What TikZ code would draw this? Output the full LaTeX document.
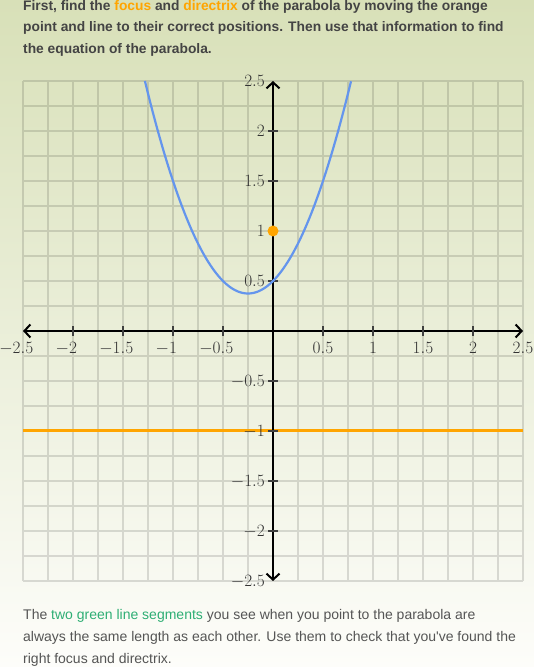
\documentclass[tikz,border=0pt]{standalone}
\usepackage[no-math]{fontspec}
\newfontfamily\uisans{Liberation Sans}
\usetikzlibrary{arrows.meta}
\definecolor{bgtop}{RGB}{216,224,184}
\definecolor{bgbot}{RGB}{253,253,250}
\definecolor{txt}{RGB}{68,68,68}
\definecolor{txtb}{RGB}{85,85,85}
\definecolor{orng}{RGB}{255,165,0}
\definecolor{grn}{RGB}{46,174,116}
\definecolor{curveblue}{RGB}{100,149,237}
\newcommand\negl[1]{\llap{$-$}#1}
\begin{document}
\begin{tikzpicture}[x=1pt,y=1pt,
  gridline/.style={draw=black,opacity=0.13,line width=1.6pt},
  axisline/.style={draw=black,line width=2pt},
  barb/.style={arrows={Straight Barb[length=6pt,width=13pt]-Straight Barb[length=6pt,width=13pt]}},
  tickmark/.style={draw=black!75,line width=1.2pt},
  ticklabel/.style={inner sep=0pt,font=\fontsize{16.5}{18}\selectfont,text=black!80},
  directrix/.style={draw=orng,line width=3pt},
  curve/.style={draw=curveblue,line width=2.2pt},
  focuspt/.style={circle,fill=orng,inner sep=0pt,minimum size=11pt},
  toptext/.style={inner sep=0pt,anchor=base west,text=txt,font=\uisans\bfseries\fontsize{13.8}{16}\selectfont},
  bottext/.style={inner sep=0pt,anchor=base west,text=txtb,font=\uisans\fontsize{14}{16}\selectfont}]
\useasboundingbox (0,0) rectangle (534,667);
\shade[top color=bgtop,bottom color=bgbot] (0,0) rectangle (534,667);

\node[toptext] (t1) at (23,656.7) {First, find the {\color{orng}focus} and {\color{orng}directrix} of the parabola by moving the orange};
\node[toptext] (t2) at (23,635.2) {point and line to their correct positions. Then use that information to find};
\node[toptext] (t3) at (23,613.7) {the equation of the parabola.};

\node[bottext] (b1) at (23,47) {The {\color{grn}two green line segments} you see when you point to the parabola are};
\node[bottext] (b2) at (23,25.3) {always the same length as each other. Use them to check that you{\char39}ve found the};
\node[bottext] (b3) at (23,3.7) {right focus and directrix.};

\begin{scope}[shift={(273,336)},x=100pt,y=100pt]
  \draw[gridline,step=0.25] (-2.5,-2.5) grid (2.5,2.5);
  \coordinate (dl) at (-2.5,-1);
  \coordinate (dr) at (2.5,-1);
  \draw[directrix] (dl) -- (dr);
  \coordinate (xl) at (-2.5,0);
  \coordinate (xr) at (2.5,0);
  \coordinate (yb) at (0,-2.5);
  \coordinate (yt) at (0,2.5);
  \draw[axisline,barb] (xl) -- (xr);
  \draw[axisline,barb] (yb) -- (yt);
  \foreach \v in {-2,-1.5,-1,-0.5,0.5,1,1.5,2} {
    \draw[tickmark] (\v,-0.05) -- (\v,0.05);
    \draw[tickmark] (-0.05,\v) -- (0.05,\v);
  }
  \foreach \v/\t [count=\i] in {-2.5/\negl{2.5},-2/\negl{2},-1.5/\negl{1.5},-1/\negl{1},-0.5/\negl{0.5},0.5/0.5,1/1,1.5/1.5,2/2,2.5/2.5} {
    \node[ticklabel,anchor=base,yshift=-23pt] (xlab\i) at (\v,0) {$\t$};
  }
  \foreach \v/\t [count=\i] in {-2.5/-2.5,-2/-2,-1.5/-1.5,-1/-1,-0.5/-0.5,0.5/0.5,1/1,1.5/1.5,2/2,2.5/2.5} {
    \node[ticklabel,anchor=base east,xshift=-8pt,yshift=-5.3pt] (ylab\i) at (0,\v) {$\t$};
  }
  \draw[curve] plot[domain=-1.2808:0.7808,samples=120,smooth] (\x,{2*\x*\x+\x+0.5});
  \node[focuspt] (focus) at (0,1) {};
\end{scope}
\end{tikzpicture}
\end{document}
